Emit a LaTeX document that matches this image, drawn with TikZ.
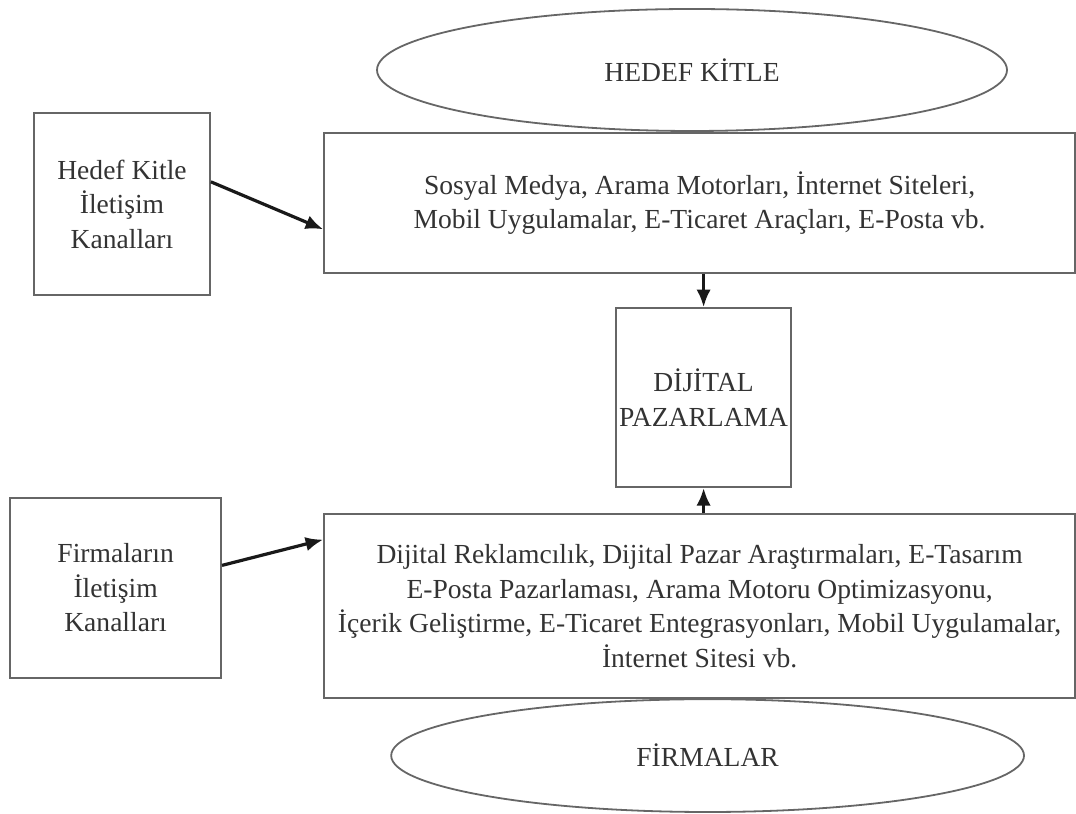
\documentclass[tikz,border=0pt]{standalone}
\usepackage{fontspec}
\setmainfont{Liberation Serif}
\usetikzlibrary{shapes.geometric,arrows.meta}

\begin{document}
\begin{tikzpicture}[kutu/.style={draw=black!60,line width=0.45mm,fill=white,align=center,text=black!80,font=\fontsize{19.6}{24.5}\selectfont,inner sep=0pt},
    oval/.style={ellipse,draw=black!60,line width=0.45mm,text=black!80,font=\fontsize{19.6}{24.5}\selectfont,inner sep=0pt},
    ok/.style={line width=0.8mm,black!90,-{Latex[length=4.4mm,width=3.6mm]}},]
        \useasboundingbox (0,0) rectangle (26.9,20.35);

        \node[oval,minimum width=15.75cm,minimum height=3.05cm] (hedef) at (17.3,18.6) {HEDEF KİTLE};
        \node[kutu,minimum width=4.4cm,minimum height=4.55cm] (hkk) at (3.05,15.25) {Hedef Kitle\\İletişim\\Kanalları};
        \node[kutu,minimum width=18.775cm,minimum height=3.5cm] (medya) at (17.49,15.275) {Sosyal Medya, Arama Motorları, İnternet Siteleri,\\Mobil Uygulamalar, E-Ticaret Araçları, E-Posta vb.};
        \node[kutu,minimum width=4.375cm,minimum height=4.475cm] (dp) at (17.59,10.41) {DİJİTAL\\PAZARLAMA};
        \node[kutu,minimum width=5.275cm,minimum height=4.5cm] (fik) at (2.89,5.65) {Firmaların\\İletişim\\Kanalları};
        \node[kutu,minimum width=18.775cm,minimum height=4.6cm] (reklam) at (17.49,5.2) {Dijital Reklamcılık, Dijital Pazar Araştırmaları, E-Tasarım\\E-Posta Pazarlaması, Arama Motoru Optimizasyonu,\\İçerik Geliştirme, E-Ticaret Entegrasyonları, Mobil Uygulamalar,\\İnternet Sitesi vb.};
        \node[oval,minimum width=15.82cm,minimum height=2.82cm] (firma) at (17.69,1.46) {FİRMALAR};

        \draw[ok] (hkk.14) -- (medya.184.7);
        \draw[ok] (fik.12.8) -- (reklam.170.3);
        \draw[ok] (dp.north |- medya.south) -- (dp.north);
        \draw[ok] (dp.south |- reklam.north) -- (dp.south);

    \end{tikzpicture}
\end{document}
